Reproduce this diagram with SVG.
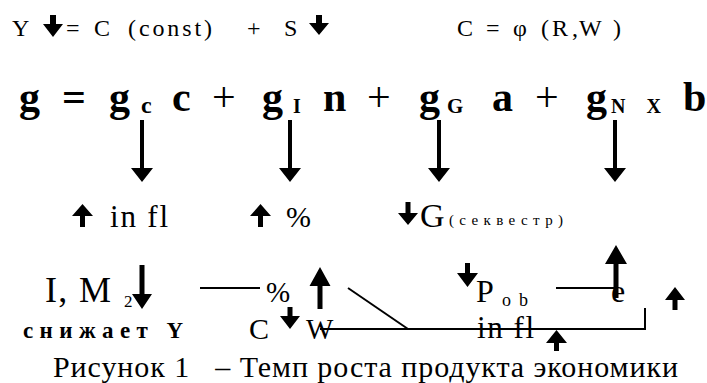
<svg xmlns="http://www.w3.org/2000/svg" width="707" height="383" viewBox="0 0 707 383">
<style>
text{fill:#000}
.b{font-weight:bold}
.ar{fill:#000;stroke:none}
.ln{stroke:#000;stroke-width:2;fill:none}
.pre{white-space:pre}
</style>
<rect width="707" height="383" fill="#fff"/>
<g font-family="Liberation Serif, Times New Roman, serif">
<g id="top-left">
<text x="12" y="36" font-size="24">Y</text>
<polygon class="ar" points="53,37 63,24 56,24 56,15 50,15 50,24 43,24"/>
<text x="66" y="36" font-size="24">=</text>
<text x="94" y="36" font-size="24">C</text>
<text x="128" y="36" font-size="24" textLength="84" lengthAdjust="spacing">(const)</text>
<text x="247" y="36" font-size="24">+</text>
<text x="284" y="36" font-size="24">S</text>
<polygon class="ar" points="319,35 329,23 322,23 322,15 316,15 316,23 309,23"/>
</g>
<g id="top-right">
<text x="457" y="36" font-size="24">C</text>
<text x="486" y="36" font-size="24">=</text>
<text x="513" y="36" font-size="24">φ</text>
<text x="541" y="36" font-size="24">(</text>
<text x="552" y="36" font-size="24">R</text>
<text x="572" y="36" font-size="24">,</text>
<text x="579" y="36" font-size="24">W</text>
<text x="613" y="36" font-size="24">)</text>
</g>
<g id="formula">
<text class="b" x="19" y="111" font-size="42">g</text>
<text class="b" x="62" y="111" font-size="42">=</text>
<text class="b" x="109" y="111" font-size="42">g</text>
<text class="b" x="141" y="113" font-size="24">c</text>
<text class="b" x="172" y="111" font-size="42">c</text>
<text x="212" y="111" font-size="42">+</text>
<text class="b" x="262" y="111" font-size="42">g</text>
<text class="b" x="293" y="113" font-size="20">I</text>
<text class="b" x="323" y="111" font-size="42">n</text>
<text x="367" y="111" font-size="42">+</text>
<text class="b" x="419" y="111" font-size="42">g</text>
<text class="b" x="447" y="113" font-size="21">G</text>
<text class="b" x="492" y="111" font-size="42">a</text>
<text x="535" y="111" font-size="42">+</text>
<text class="b" x="586" y="111" font-size="42">g</text>
<text class="b" x="611" y="113" font-size="20" textLength="50" lengthAdjust="spacing">N X</text>
<text class="b" x="683" y="111" font-size="42">b</text>
</g>
<g id="connectors">
<polygon class="ar" points="142,182 153,168 144,168 144,120 140,120 140,168 131,168"/>
<polygon class="ar" points="290,182 301,168 292,168 292,120 288,120 288,168 279,168"/>
<polygon class="ar" points="439,182 450,168 441,168 441,120 437,120 437,168 428,168"/>
<polygon class="ar" points="615,182 626,168 617,168 617,120 613,120 613,168 604,168"/>
<line class="ln" x1="200" y1="288" x2="260" y2="288"/>
<line class="ln" x1="348" y1="288" x2="408" y2="329"/>
<polyline class="ln" points="320,329 645,329 645,308"/>
<line class="ln" x1="556" y1="288" x2="617" y2="288"/>
<polygon class="ar" points="616,245 627,264 618.5,264 618.5,298 613.5,298 613.5,264 605,264"/>
</g>
<g id="infl-up">
<polygon class="ar" points="82.5,204 93,216 85,216 85,227 80,227 80,216 72,216"/>
<text x="110" y="227" font-size="31" textLength="58" lengthAdjust="spacing">in fl</text>
</g>
<g id="rate-up">
<polygon class="ar" points="260.5,204 271,216 263,216 263,227 258,227 258,216 250,216"/>
<text x="286" y="227" font-size="30">%</text>
</g>
<g id="g-down">
<polygon class="ar" points="408,225 418,213 410.5,213 410.5,202 405.5,202 405.5,213 398,213"/>
<text x="420" y="227" font-size="34">G</text>
<text x="449" y="225" font-size="15" textLength="114" lengthAdjust="spacing">(секвестр)</text>
</g>
<g id="im2">
<text x="45" y="302" font-size="36" textLength="66" lengthAdjust="spacing">I, M</text>
<text x="124" y="307" font-size="17">2</text>
<polygon class="ar" points="142,309 152,294 144.5,294 144.5,265 139.5,265 139.5,294 132,294"/>
</g>
<g id="reduces-y">
<text class="b" x="23" y="338" font-size="23" textLength="160" lengthAdjust="spacing">снижает Y</text>
</g>
<g id="rate">
<text x="266" y="302" font-size="29">%</text>
<polygon class="ar" points="320,267 330.5,286 322.5,286 322.5,309 317.5,309 317.5,286 309.5,286"/>
</g>
<g id="cw">
<text x="249" y="339" font-size="30">C</text>
<polygon class="ar" points="290,329 300,316 292.5,316 292.5,307 287.5,307 287.5,316 280,316"/>
<text x="306" y="339" font-size="29">W</text>
</g>
<g id="pob">
<polygon class="ar" points="467.5,287 478,273 470,273 470,263 465,263 465,273 457,273"/>
<text x="476" y="302" font-size="32">P</text>
<text x="502" y="306" font-size="18" textLength="26" lengthAdjust="spacing">o b</text>
</g>
<g id="e">
<text x="611" y="302" font-size="32">e</text>
</g>
<g id="up-right">
<polygon class="ar" points="675,287 685,300 677.5,300 677.5,310 672.5,310 672.5,300 665,300"/>
</g>
<g id="infl">
<text x="477" y="338" font-size="31" textLength="57" lengthAdjust="spacing">in fl</text>
<polygon class="ar" points="556.5,330 567,343 559,343 559,351 554,351 554,343 546,343"/>
</g>
<g id="caption">
<text class="pre" x="53" y="377" font-size="30" textLength="625" lengthAdjust="spacing">Рисунок 1   – Темп роста продукта экономики</text>
</g>
</g>
</svg>
